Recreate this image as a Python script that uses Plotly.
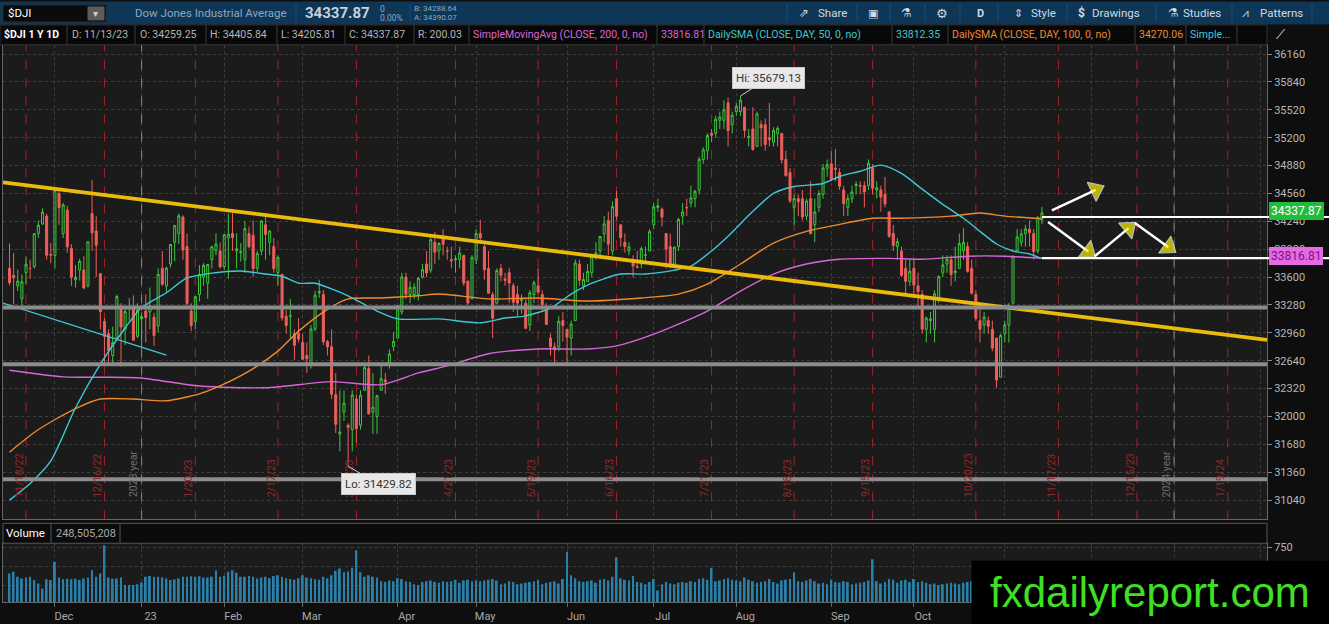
import pandas as pd
import plotly.graph_objects as go

W, H = 1329, 624
UI = "Roboto, DejaVu Sans, sans-serif"

# ---- market calendar ----
holidays = ["2022-11-24", "2022-12-26", "2023-01-02", "2023-01-16", "2023-02-20",
            "2023-04-07", "2023-05-29", "2023-06-19", "2023-07-04", "2023-09-04",
            "2023-11-23", "2023-12-25", "2024-01-01", "2024-01-15"]

# ---- daily candles $DJI, 11/14/22 .. 11/13/23 (one line per month) ----
opens = [
    33700, 33620, 33500, 33350, 33650, 33700, 33720, 34100, 34210, 34300, 33860, 33850,
    34560, 34100, 34370, 33930, 33570, 33680, 33680, 33500, 34330, 34130, 33640, 33090, 32950, 32700, 32900, 33270, 33000, 33240, 33260, 32920, 33120,
    33210, 33200, 33140, 33040, 33700, 33500, 33750, 34000, 34100, 34290, 33950, 33210, 33090, 33400, 33600, 33530, 33800, 33900, 33900, 33720,
    34050, 34100, 33900, 33880, 33800, 34100, 34080, 33700, 33900, 34200, 34000, 33950, 33650, 33630, 33150, 33150, 32950, 32950, 32850,
    32700, 32600, 33000, 33420, 33400, 32860, 32800, 32250, 31800, 32050, 31900, 31850, 32200, 31900, 32300, 32550, 32050, 32000, 32300, 32420, 32600, 32800, 32900,
    33200, 33600, 33400, 33400, 33400, 33600, 33750, 33680, 34000, 33900, 34050, 33900, 33800, 33800, 33800, 33850, 33550, 33350, 33800,
    34100, 33950, 33700, 33400, 33300, 33700, 33580, 33650, 33500, 33400, 33330, 33300, 33050, 33400, 33500, 33400, 33250, 32900, 32800, 32800, 33100, 33000,
    32900, 33100, 33750, 33500, 33550, 33650, 33850, 33900, 34100, 34250, 33900, 34500, 34200, 34000, 33900, 33800, 33720, 33750, 33850, 33900, 34200,
    34400, 34380, 34100, 33950, 33750, 33950, 34300, 34400, 34450, 34500, 34600, 34950, 35050, 35250, 35250, 35400, 35400, 35600, 35350, 35500,
    35500, 35550, 35200, 35300, 35100, 35350, 35350, 35200, 35150, 35250, 35250, 34950, 34800, 34400, 34500, 34500, 34300, 34500, 34200, 34400, 34550, 34850, 34900,
    34850, 34800, 34600, 34400, 34500, 34650, 34650, 34650, 34650, 34850, 34600, 34600, 34550, 34350, 34100, 33950, 33900, 33700, 33550, 33700,
    33500, 33400, 33000, 33100, 33000, 33350, 33650, 33750, 33800, 33650, 33700, 33900, 33950, 33700, 33400, 33100, 33050, 33100, 33000, 32900, 32450, 32950,
    33050, 33300, 33900, 34000, 34100, 34150, 34100, 33900, 34259.25,
]
highs = [
    33987, 33876, 33686, 33630, 33837, 33800, 34100, 34250, 34390, 34330, 33990, 34590,
    34600, 34450, 34420, 33980, 33740, 33810, 33840, 34010, 34712, 34300, 33640, 33130, 33000, 33030, 33400, 33300, 33230, 33360, 33390, 33300, 33150,
    33400, 33480, 33190, 33700, 33900, 33720, 33980, 34200, 34330, 34310, 34100, 33300, 33380, 33740, 33760, 33750, 33960, 34100, 34000, 34090,
    34330, 34334, 34100, 33990, 34240, 34180, 34250, 33900, 34250, 34300, 34140, 34050, 33850, 33640, 33220, 33350, 33000, 33130, 32950,
    32850, 33050, 33440, 33570, 33450, 32880, 33000, 32500, 32300, 32300, 31920, 32300, 32250, 32300, 32600, 32700, 32500, 32250, 32600, 32500, 32770, 32970, 33280,
    33650, 33650, 33550, 33530, 33600, 33750, 33900, 34050, 34120, 34000, 34150, 33950, 33950, 33850, 33950, 33850, 33570, 33850, 34150,
    34260, 33970, 33900, 33430, 33700, 33750, 33650, 33700, 33530, 33500, 33400, 33350, 33450, 33560, 33700, 33450, 33300, 32950, 32850, 33150, 33200, 33000,
    33100, 33800, 33800, 33650, 33750, 33850, 34000, 34070, 34300, 34350, 34470, 34590, 34200, 34100, 34000, 33850, 33900, 33950, 33950, 34150, 34450,
    34500, 34400, 34100, 34100, 33950, 34280, 34450, 34500, 34650, 34600, 34980, 35090, 35250, 35300, 35450, 35500, 35630, 35660, 35500, 35600,
    35679.13, 35550, 35300, 35550, 35500, 35400, 35420, 35600, 35320, 35330, 35250, 35050, 34850, 34550, 34550, 34600, 34500, 34700, 34500, 34600, 34900, 34950, 35050,
    35070, 34850, 34650, 34550, 34650, 34700, 34700, 34700, 34950, 34900, 34700, 34650, 34750, 34350, 34200, 34050, 33950, 33800, 33800, 33800,
    33650, 33450, 33150, 33200, 33450, 33620, 33850, 33850, 33850, 33950, 34100, 34160, 34000, 33800, 33450, 33250, 33200, 33150, 33100, 32900, 32950, 33100,
    33300, 33850, 34150, 34150, 34200, 34250, 34150, 34300, 34405.84,
]
lows = [
    33506, 33286, 33440, 33273, 33520, 33580, 33700, 34050, 34200, 33800, 33760, 33700,
    34200, 34050, 33880, 33500, 33480, 33560, 33460, 33480, 33900, 33600, 33000, 32580, 32580, 32580, 32870, 32570, 32820, 33100, 32870, 32900, 32800,
    32850, 33000, 32810, 32960, 33500, 33430, 33710, 33780, 33980, 33800, 33270, 32980, 33000, 33320, 33500, 33350, 33700, 33850, 33700, 33680,
    33580, 33900, 33700, 33780, 33650, 33930, 33600, 33650, 33850, 33800, 33850, 33650, 33500, 33100, 32950, 32900, 32650, 32850, 32650,
    32500, 32550, 32980, 33360, 32820, 32700, 32200, 31810, 31600, 31950, 31429.82, 31600, 31700, 31850, 32300, 32020, 31800, 31800, 32300, 32260, 32550, 32750, 32900,
    33170, 33350, 33300, 33350, 33330, 33580, 33600, 33650, 33750, 33800, 33850, 33800, 33700, 33650, 33700, 33500, 33280, 33350, 33750,
    33990, 33570, 33410, 32900, 33300, 33550, 33500, 33300, 33200, 33150, 33180, 33000, 32980, 33300, 33400, 33200, 33050, 32700, 32580, 32750, 32860, 32590,
    32700, 33100, 33500, 33450, 33550, 33600, 33800, 33850, 34000, 33850, 33850, 34250, 33950, 33880, 33850, 33600, 33700, 33700, 33750, 33900, 34150,
    34350, 34180, 33700, 33700, 33700, 33900, 34200, 34300, 34400, 34400, 34550, 34900, 34950, 35150, 35200, 35300, 35300, 35100, 35250, 35450,
    35450, 35200, 35100, 35050, 35100, 35100, 35050, 35100, 35100, 35100, 34900, 34750, 34450, 34200, 34300, 34250, 34250, 34090, 34000, 34350, 34500, 34750, 34700,
    34700, 34600, 34300, 34300, 34450, 34550, 34550, 34400, 34600, 34550, 34500, 34350, 34400, 34050, 33900, 33800, 33600, 33400, 33500, 33400,
    33250, 32950, 32850, 32950, 32850, 33300, 33600, 33650, 33500, 33550, 33700, 33800, 33650, 33400, 33100, 32850, 32950, 32950, 32750, 32330, 32450, 32850,
    32850, 33300, 33900, 33950, 33950, 33950, 33800, 33870, 34205.81,
]
closes = [
    33537, 33593, 33554, 33546, 33746, 33700, 34098, 34195, 34347, 33850, 33853, 34590,
    34395, 34430, 33947, 33597, 33598, 33781, 33476, 34005, 34108, 33966, 33203, 32920, 32757, 32850, 33377, 33027, 33204, 33241, 32876, 33221, 33147,
    33136, 33270, 32930, 33631, 33518, 33704, 33974, 34190, 34303, 33910, 33297, 33045, 33375, 33630, 33734, 33744, 33949, 33978, 33717, 34086,
    34093, 34054, 33926, 33891, 34156, 33949, 33699, 33869, 34246, 34089, 34128, 33697, 33827, 33130, 33045, 33154, 32817, 32889, 32657,
    32662, 33004, 33391, 33432, 32856, 32799, 32254, 31910, 31820, 32155, 31875, 32247, 31862, 32245, 32561, 32031, 32106, 32238, 32433, 32395, 32718, 32860, 33274,
    33601, 33403, 33483, 33485, 33587, 33685, 33647, 34030, 33886, 33987, 33977, 33897, 33787, 33809, 33876, 33531, 33302, 33827, 34098,
    34051, 33684, 33414, 33128, 33674, 33619, 33562, 33531, 33310, 33301, 33349, 33012, 33420, 33535, 33427, 33286, 33056, 32800, 32765, 33093, 33043, 32908,
    33061, 33762, 33563, 33573, 33665, 33833, 33877, 34066, 34212, 33979, 34408, 34299, 34053, 33951, 33946, 33727, 33714, 33927, 33853, 34122, 34408,
    34418, 34288, 33922, 33734, 33944, 34262, 34347, 34395, 34509, 34585, 34952, 35061, 35225, 35228, 35411, 35438, 35520, 35283, 35459, 35560,
    35630, 35283, 35216, 35066, 35474, 35314, 35123, 35176, 35281, 35308, 34946, 34766, 34475, 34501, 34464, 34289, 34473, 34099, 34347, 34560, 34853, 34891, 34722,
    34838, 34642, 34443, 34501, 34577, 34664, 34646, 34576, 34907, 34619, 34625, 34518, 34441, 34070, 33964, 34007, 33619, 33551, 33667, 33508,
    33433, 33002, 33129, 33120, 33408, 33605, 33740, 33804, 33631, 33670, 33985, 33998, 33666, 33415, 33127, 33002, 33141, 33036, 32785, 32418, 32929, 33053,
    33275, 33839, 34061, 34096, 34153, 34112, 33892, 34283, 34337.87,
]
# volume, millions
volumes = [
    404, 426, 360, 338, 349, 360, 316, 272, 206, 327, 316, 557,
    349, 327, 333, 327, 333, 316, 338, 349, 447, 360, 404, 776, 349, 333, 338, 349, 250, 250, 250, 261, 283,
    360, 371, 360, 360, 349, 338, 316, 327, 338, 360, 360, 366, 360, 366, 349, 349, 360, 447, 360, 371,
    426, 447, 413, 360, 360, 371, 360, 338, 350, 360, 340, 370, 380, 360, 340, 330, 320, 340, 380,
    350, 340, 330, 320, 360, 340, 380, 440, 470, 420, 430, 480, 711, 420, 360, 380, 360, 350, 300, 290, 310, 300, 340,
    330, 300, 290, 260, 250, 290, 300, 310, 290, 280, 300, 290, 300, 320, 280, 310, 320, 300, 310,
    300, 310, 320, 330, 310, 260, 270, 300, 290, 260, 270, 280, 290, 300, 320, 260, 280, 290, 300, 270, 330, 689,
    380, 340, 300, 290, 300, 310, 280, 320, 330, 310, 360, 618, 340, 320, 310, 370, 290, 280, 260, 290, 330,
    180, 260, 290, 270, 260, 280, 290, 280, 300, 290, 330, 340, 320, 478, 300, 310, 330, 340, 320, 310,
    300, 350, 320, 300, 280, 290, 300, 330, 290, 270, 310, 320, 330, 420, 300, 290, 310, 330, 300, 270, 280, 260, 320,
    290, 280, 300, 290, 260, 270, 280, 290, 310, 592, 300, 270, 290, 330, 320, 280, 310, 320, 290, 330,
    290, 300, 280, 260, 270, 250, 260, 270, 280, 270, 260, 280, 290, 300, 330, 290, 280, 290, 300, 310, 280, 330,
    300, 330, 320, 270, 280, 290, 300, 260, 248.5,
]

# ---- studies ----
sma50_dates = ["2022-11-14", "2022-11-21", "2022-11-29", "2022-12-07", "2022-12-15", "2022-12-22", "2022-12-30",
               "2023-01-10", "2023-01-18", "2023-01-26", "2023-02-06", "2023-02-14", "2023-02-21", "2023-02-27",
               "2023-03-03", "2023-03-09", "2023-03-15", "2023-03-24", "2023-03-31", "2023-04-17", "2023-05-01",
               "2023-05-09", "2023-05-16", "2023-05-24", "2023-06-01", "2023-06-08", "2023-06-20", "2023-06-28",
               "2023-07-10", "2023-07-14", "2023-07-21", "2023-07-27", "2023-08-04", "2023-08-11", "2023-08-18",
               "2023-08-29", "2023-09-05", "2023-09-12", "2023-09-19", "2023-09-26", "2023-10-03", "2023-10-10",
               "2023-10-17", "2023-10-23", "2023-10-27", "2023-11-02", "2023-11-08", "2023-11-13"]
sma50_vals = [31040, 31230, 31490, 32100, 32600, 32950, 33250,
              33420, 33590, 33645, 33670, 33635, 33610, 33530,
              33530, 33465, 33385, 33210, 33120, 33120, 33075,
              33130, 33155, 33245, 33405, 33530, 33635, 33635,
              33680, 33725, 33900, 34070, 34355, 34560, 34640,
              34675, 34755, 34815, 34885, 34790, 34610, 34435,
              34275, 34125, 33980, 33900, 33865, 33812.35]
sma100_dates = ["2022-11-14", "2022-11-23", "2022-12-07", "2022-12-15", "2022-12-28", "2023-01-10", "2023-01-23",
                "2023-01-27", "2023-02-08", "2023-02-17", "2023-02-27", "2023-03-08", "2023-03-15", "2023-03-27",
                "2023-04-10", "2023-04-17", "2023-05-03", "2023-05-19", "2023-06-07", "2023-06-27", "2023-07-11",
                "2023-07-20", "2023-08-01", "2023-08-11", "2023-08-23", "2023-09-05", "2023-09-15", "2023-09-26",
                "2023-10-12", "2023-10-23", "2023-10-31", "2023-11-13"]
sma100_vals = [31590, 31850, 32090, 32200, 32200, 32180, 32260,
               32330, 32520, 32750, 32980, 33230, 33350, 33360,
               33385, 33405, 33350, 33360, 33325, 33360, 33405,
               33520, 33750, 33990, 34125, 34205, 34275, 34275,
               34300, 34335, 34300, 34270.06]
sma200_dates = ["2022-11-14", "2022-12-02", "2022-12-29", "2023-01-23", "2023-02-14", "2023-03-09", "2023-03-27",
                "2023-04-10", "2023-04-19", "2023-05-03", "2023-05-19", "2023-06-07", "2023-06-16", "2023-06-30",
                "2023-07-20", "2023-08-01", "2023-08-11", "2023-08-23", "2023-09-05", "2023-09-21", "2023-10-03",
                "2023-10-18", "2023-10-31", "2023-11-13"]
sma200_vals = [32530, 32455, 32445, 32350, 32330, 32400, 32365,
               32500, 32580, 32720, 32775, 32775, 32810, 32945,
               33210, 33440, 33635, 33750, 33805, 33815, 33805,
               33840, 33840, 33816.81]

# ---- drawings on the chart ----
trend_dates = ["2022-11-10 10:20", "2024-02-01 12:00"]
trend_prices = [34687, 32879]
cyan_trend_dates = ["2022-11-10 10:20", "2023-01-10"]
cyan_trend_prices = [33302, 32704]
support_levels = [33250, 32600, 31280]
white_levels = [34290, 33816.81]
white_start = "2023-11-13"
arrow_up_dates = ["2023-11-15 10:00", "2023-12-04 19:00"]
arrow_up_prices = [34367, 34641]
zigzag_dates = ["2023-11-14 12:00", "2023-11-30 19:00", "2023-12-14 12:00", "2023-12-29 05:00"]
zigzag_prices = [34233, 33840, 34221, 33889]

expiry_dates = ["2022-11-18", "2022-12-16", "2023-01-20", "2023-02-17", "2023-03-17", "2023-04-21", "2023-05-19",
                "2023-06-16", "2023-07-21", "2023-08-18", "2023-09-15", "2023-10-20", "2023-11-17", "2023-12-15",
                "2024-01-19"]
expiry_labels = ["11/18/22", "12/16/22", "1/20/23", "2/17/23", "3/17/23", "4/21/23", "5/19/23",
                 "6/16/23", "7/21/23", "8/18/23", "9/15/23", "10/20/23", "11/17/23", "12/15/23", "1/19/24"]
year_dates = ["2022-12-30", "2023-12-29"]
year_labels = ["2023 year", "2024 year"]
month_ticks = ["2022-11-30", "2022-12-30", "2023-01-31", "2023-02-28", "2023-03-31", "2023-04-28", "2023-05-31",
               "2023-06-30", "2023-07-31", "2023-08-31", "2023-09-29", "2023-10-31", "2023-11-30", "2023-12-29",
               "2024-01-31"]
# labels after Oct sit under the watermark, so they stay blank
month_labels = ["Dec", "23", "Feb", "Mar", "Apr", "May", "Jun", "Jul", "Aug", "Sep", "Oct", "", "", "", ""]

dates = pd.bdate_range("2022-11-14", "2023-11-13", freq="C", holidays=holidays)
assert len(dates) == len(opens) == len(highs) == len(lows) == len(closes) == len(volumes)

GREEN = "#3cc83c"
RED = "#ee5f5b"
CYAN = "#3ec9d6"
ORANGE = "#ef8a2c"
MAGENTA = "#d966d9"
YELLOW = "#ebbb0c"
GRID = "#3e3e3e"
BORDER = "#666666"


def px(x):
    return x / W


def py(y):
    return 1 - y / H


fig = go.Figure()

# volume
fig.add_trace(go.Bar(x=dates, y=volumes, xaxis="x2", yaxis="y2",
                     marker=dict(color="#2b80aa", line=dict(width=0)), hoverinfo="skip"))

# price candles
fig.add_trace(go.Candlestick(
    x=dates, open=opens, high=highs, low=lows, close=closes,
    increasing=dict(line=dict(color=GREEN, width=1), fillcolor="rgba(0,0,0,0)"),
    decreasing=dict(line=dict(color=RED, width=1), fillcolor=RED),
    whiskerwidth=0, hoverinfo="skip"))

for xs, ys, col in [(sma200_dates, sma200_vals, MAGENTA), (sma100_dates, sma100_vals, ORANGE),
                    (sma50_dates, sma50_vals, CYAN)]:
    fig.add_trace(go.Scatter(x=xs, y=ys, mode="lines", hoverinfo="skip",
                             line=dict(color=col, width=1.4, shape="spline", smoothing=0.7)))

fig.add_trace(go.Scatter(x=cyan_trend_dates, y=cyan_trend_prices, mode="lines", hoverinfo="skip",
                         line=dict(color=CYAN, width=1.2)))
fig.add_trace(go.Scatter(x=trend_dates, y=trend_prices, mode="lines", hoverinfo="skip",
                         line=dict(color=YELLOW, width=3.8)))

# arrows: white shaft, yellow head at the end of each leg
legs = [(arrow_up_dates, arrow_up_prices)]
for i in range(len(zigzag_dates) - 1):
    legs.append((zigzag_dates[i:i + 2], zigzag_prices[i:i + 2]))
for xs, ys in legs:
    fig.add_trace(go.Scatter(x=xs, y=ys, mode="lines+markers", hoverinfo="skip",
                             line=dict(color="white", width=2.5),
                             marker=dict(symbol="triangle-up", size=[0, 18], angleref="previous",
                                         standoff=8, color="#fff200", line=dict(color="white", width=1.2))))

breaks = [dict(bounds=["sat", "mon"]), dict(values=holidays)]
x_range = ["2022-11-10 10:20", "2024-02-01 12:00"]
XD = [px(3), px(1267)]

fig.update_layout(
    width=W, height=H, margin=dict(l=0, r=0, t=0, b=0),
    paper_bgcolor="#0e0e0e", plot_bgcolor="#1b1b1b",
    showlegend=False, bargap=0.55,
    font=dict(family=UI, size=11, color="#b0b0b0"),
    xaxis=dict(domain=XD, anchor="y", type="date", range=x_range, rangebreaks=breaks,
               rangeslider=dict(visible=False), tickvals=month_ticks, showticklabels=False, ticks="",
               showgrid=True, gridcolor=GRID, griddash="dot", zeroline=False,
               showline=True, mirror=True, linecolor=BORDER),
    xaxis2=dict(domain=XD, anchor="y2", matches="x", type="date", rangebreaks=breaks,
                tickvals=month_ticks, ticktext=month_labels, ticks="outside", ticklen=4, tickcolor="#666",
                ticklabelshift=9, tickfont=dict(family=UI, size=11, color="#a8a8a8"),
                showgrid=True, gridcolor=GRID, griddash="dot", zeroline=False,
                showline=True, mirror=True, linecolor=BORDER),
    yaxis=dict(domain=[py(519), py(43)], anchor="x", side="right", range=[30819, 36266],
               tick0=31040, dtick=320, tickformat="d", ticks="outside", ticklen=4, tickcolor="#888",
               tickfont=dict(family=UI, size=11, color="#b8b8b8"),
               showgrid=True, gridcolor=GRID, griddash="dot", zeroline=False,
               showline=True, mirror=True, linecolor=BORDER),
    yaxis2=dict(domain=[py(602), py(543)], anchor="x2", side="right", range=[26, 803],
                tickvals=[250, 500, 750], ticktext=["", "", "750"], ticks="outside", ticklen=4, tickcolor="#888",
                tickfont=dict(family=UI, size=11, color="#b8b8b8"),
                showgrid=True, gridcolor=GRID, griddash="dot", zeroline=False,
                showline=True, mirror=True, linecolor=BORDER),
)

# expiration lines and labels
for d, lab in zip(expiry_dates, expiry_labels):
    fig.add_shape(type="line", xref="x", yref="y", x0=d, x1=d, y0=30819, y1=36266, layer="between",
                  line=dict(color="#a3232a", width=1, dash="dash"))
    fig.add_annotation(x=d, y=py(499), xref="x", yref="paper", text=lab, showarrow=False, textangle=-90,
                       xanchor="center", yanchor="bottom", xshift=-7,
                       font=dict(family=UI, size=10.5, color="#8e2a2a"))
for d, lab in zip(year_dates, year_labels):
    fig.add_shape(type="line", xref="x", yref="y", x0=d, x1=d, y0=30819, y1=36266, layer="between",
                  line=dict(color="#8a8a8a", width=1, dash="dash"))
    fig.add_annotation(x=d, y=py(499), xref="x", yref="paper", text=lab, showarrow=False, textangle=-90,
                       xanchor="center", yanchor="bottom", xshift=-8,
                       font=dict(family=UI, size=10.5, color="#6e6e6e"))

# horizontal support / resistance
for lvl in support_levels:
    fig.add_shape(type="line", xref="paper", yref="y", x0=px(3), x1=px(1267), y0=lvl, y1=lvl,
                  layer="above", line=dict(color="#8c8c8c", width=4))
for lvl in white_levels:
    fig.add_shape(type="line", xref="x", yref="y", x0=white_start, x1=x_range[1], y0=lvl, y1=lvl,
                  layer="above", line=dict(color="white", width=2.2))
    fig.add_shape(type="line", xref="paper", yref="y", x0=px(1267), x1=1, y0=lvl, y1=lvl,
                  layer="above", line=dict(color="white", width=2.2))

# hi / lo bubbles
fig.add_annotation(x="2023-08-01", y=highs[177], text="Hi: 35679.13", ax=28, ay=-18,
                   showarrow=True, arrowhead=0, arrowcolor="#cfcfcf", arrowwidth=1,
                   bgcolor="#e8e8e8", bordercolor="#c8c8c8", borderpad=3,
                   font=dict(family=UI, size=11.5, color="#333"))
fig.add_annotation(x="2023-03-15", y=lows[82], text="Lo: 31429.82", ax=30, ay=18,
                   showarrow=True, arrowhead=0, arrowcolor="#cfcfcf", arrowwidth=1,
                   bgcolor="#e8e8e8", bordercolor="#c8c8c8", borderpad=3,
                   font=dict(family=UI, size=11.5, color="#333"))

# price tags on the axis
fig.add_annotation(xref="paper", yref="y", x=px(1269), y=closes[-1] + 25, text="34337.87", showarrow=False,
                   xanchor="left", bgcolor="#1fbd3c", bordercolor="#1fbd3c", borderpad=1,
                   font=dict(family=UI, size=12, color="white"))
fig.add_annotation(xref="paper", yref="y", x=px(1269), y=sma200_vals[-1] + 20, text="33816.81", showarrow=False,
                   xanchor="left", bgcolor="#e66ae6", bordercolor="#e66ae6", borderpad=1,
                   font=dict(family=UI, size=12, color="#7a167a"))


def box(x0, y0, x1, y1, fill, line=None):
    fig.add_shape(type="rect", xref="paper", yref="paper", x0=px(x0), x1=px(x1), y0=py(y1), y1=py(y0),
                  fillcolor=fill, line=dict(color=line or fill, width=1), layer="above")


def vline(x, y0, y1, color):
    fig.add_shape(type="line", xref="paper", yref="paper", x0=px(x), x1=px(x), y0=py(y0), y1=py(y1),
                  line=dict(color=color, width=1), layer="above")


def text(x, y, s, color, size=10.5, bold=False, anchor="left", family=UI):
    fig.add_annotation(xref="paper", yref="paper", x=px(x), y=py(y), text=f"<b>{s}</b>" if bold else s,
                       showarrow=False, xanchor=anchor, yanchor="middle",
                       font=dict(family=family, size=size, color=color))


# top toolbar
box(0, 0, W, 22, "#0e3657")
box(3, 3, 106, 20, "#0b0b0b", "#2a2a2a")
box(88, 5, 104, 18, "#5c5c5c")
text(96, 11.5, "▾", "#d0d0d0", 10, anchor="center")
text(6, 11.5, "$DJI", "white", 11.5)
text(133, 11.5, "Dow Jones Industrial Average", "#8ea7bd", 11.5)
vline(296, 2, 20, "#1f4c70")
text(303, 11.5, "34337.87", "#c8d2da", 15, bold=True)
text(378, 7, "0", "#8ea7bd", 8.5)
text(378, 16, "0.00%", "#8ea7bd", 8.5)
vline(410, 2, 20, "#1f4c70")
text(412, 6.5, "B: 34288.64", "#8ea7bd", 8)
text(412, 15.5, "A: 34390.07", "#8ea7bd", 8)
for xv in [787, 857, 890, 925, 960, 998, 1067, 1156, 1232, 1312]:
    vline(xv, 2, 20, "#1f4c70")
text(797, 11.5, "⇗", "#d0dae2", 12)
text(816, 11.5, "Share", "#d0dae2", 11.5)
text(873, 11.5, "▣", "#d0dae2", 11, anchor="center")
text(907, 11.5, "⚗", "#d0dae2", 12, anchor="center")
text(942, 11.5, "⚙", "#d0dae2", 13, anchor="center")
text(980, 11.5, "D", "#d0dae2", 11, bold=True, anchor="center")
text(1012, 11.5, "⇕", "#d0dae2", 11)
text(1029, 11.5, "Style", "#d0dae2", 11.5)
text(1076, 11.5, "$", "#d0dae2", 12, bold=True)
text(1090, 11.5, "Drawings", "#d0dae2", 11.5)
text(1166, 11.5, "⚗", "#d0dae2", 12)
text(1181, 11.5, "Studies", "#d0dae2", 11.5)
text(1240, 11.5, "⩘", "#d0dae2", 12)
text(1258, 11.5, "Patterns", "#d0dae2", 11.5)

# study header row
box(0, 23, 1267, 43, "#080808", "#333333")
for xv in [67, 135, 206, 277, 345, 414, 469, 657, 704, 892, 948, 1135, 1186, 1237]:
    vline(xv, 23, 43, "#3a3a3a")
text(2, 33, "$DJI 1 Y 1D", "white", 10.5, bold=True)
text(70, 33, "D: 11/13/23", "#b4b4b4")
text(138, 33, "O: 34259.25", "#b4b4b4")
text(208, 33, "H: 34405.84", "#b4b4b4")
text(279, 33, "L: 34205.81", "#b4b4b4")
text(347, 33, "C: 34337.87", "#b4b4b4")
text(416, 33, "R: 200.03", "#b4b4b4")
text(471, 33, "SimpleMovingAvg (CLOSE, 200, 0, no)", MAGENTA)
text(659, 33, "33816.81", MAGENTA)
text(706, 33, "DailySMA (CLOSE, DAY, 50, 0, no)", CYAN)
text(894, 33, "33812.35", CYAN)
text(950, 33, "DailySMA (CLOSE, DAY, 100, 0, no)", ORANGE)
text(1137, 33, "34270.06", ORANGE)
text(1188, 33, "Simple...", CYAN)
text(1281, 33, "⟋", "#e0e0e0", 13, anchor="center")

# volume header
box(3, 523, 1267, 543, "#0b0b0b", "#555555")
vline(51, 523, 543, "#555555")
vline(120, 523, 543, "#555555")
text(4, 533, "Volume", "white", 11.5)
text(54, 533, "248,505,208", "#a8a8a8", 11)

# watermark
box(972, 561, W, H, "#000000")
text(1150, 592, "fxdailyreport.com", "#3fe024", 42, anchor="center", family="Liberation Sans, Arial, sans-serif")

fig.write_html("out.html", config={"displayModeBar": False},
               post_script="document.body.style.margin='0';document.body.style.overflow='hidden';")
